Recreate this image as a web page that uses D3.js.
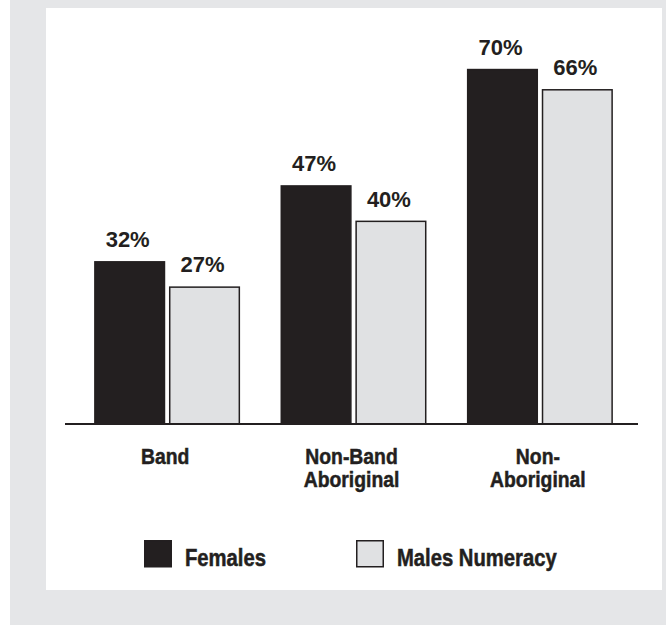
<!DOCTYPE html>
<html>
<head>
<meta charset="utf-8">
<script src="https://cdn.jsdelivr.net/npm/d3@7"></script>
<style>
  html, body { margin: 0; padding: 0; background: #ffffff; }
  svg { display: block; }
</style>
</head>
<body>
<script>
// Numeracy share by group and sex
const groups = ["Band", "Non-Band Aboriginal", "Non-Aboriginal"];
const groupLines = [["Band"], ["Non-Band", "Aboriginal"], ["Non-", "Aboriginal"]];
const seriesNames = ["Females", "Males Numeracy"];
const females = [32, 47, 70];
const males = [27, 40, 66];

const W = 666, H = 625;
const ink = "#231f20";
const lightFill = "#e0e1e3";
const frameGrey = "#e5e6e8";
const sans = "'Liberation Sans', Arial, Helvetica, sans-serif";
const squeeze = 0.88; // horizontal compression for the condensed labels

const svg = d3.select("body").append("svg")
  .attr("width", W).attr("height", H);

// grey frame with white panel
svg.append("rect").attr("x", 10).attr("y", 0).attr("width", W - 10).attr("height", H)
  .attr("fill", frameGrey);
svg.append("rect").attr("x", 46).attr("y", 8).attr("width", 616).attr("height", 582)
  .attr("fill", "#ffffff");

const baseline = 423;

const x0 = d3.scaleBand().domain(groups).range([74, 633])
  .paddingInner(0.217).paddingOuter(0.108);
const x1 = d3.scaleBand().domain(seriesNames).range([0, x0.bandwidth()])
  .paddingInner(0.05);
const y = d3.scaleLinear().domain([0, 100]).range([baseline, baseline - 506]);
const color = d3.scaleOrdinal().domain(seriesNames).range([ink, lightFill]);

const rows = groups.map((g, i) => ({ group: g, values: [
  { series: seriesNames[0], value: females[i] },
  { series: seriesNames[1], value: males[i] }
]}));

const g = svg.selectAll("g.group").data(rows).join("g")
  .attr("class", "group")
  .attr("transform", d => `translate(${x0(d.group)},0)`);

g.selectAll("rect").data(d => d.values).join("rect")
  .attr("x", d => x1(d.series) + 0.75)
  .attr("y", d => y(d.value) + 0.75)
  .attr("width", x1.bandwidth() - 1.5)
  .attr("height", d => baseline - y(d.value))
  .attr("fill", d => color(d.series))
  .attr("stroke", ink)
  .attr("stroke-width", 1.5);

g.selectAll("text.val").data(d => d.values).join("text")
  .attr("class", "val")
  .attr("x", d => x1(d.series) + x1.bandwidth() / 2 - 2)
  .attr("y", d => y(d.value) - 14)
  .attr("text-anchor", "middle")
  .attr("font-family", sans)
  .attr("font-weight", "bold")
  .attr("font-size", 22)
  .attr("fill", ink)
  .text(d => d.value + "%");

// baseline axis
svg.append("line")
  .attr("x1", 65).attr("x2", 638)
  .attr("y1", baseline + 1).attr("y2", baseline + 1)
  .attr("stroke", ink).attr("stroke-width", 2.2);

// category labels (condensed by horizontal scaling, slightly heavier stroke)
groups.forEach((grp, i) => {
  const cx = x0(grp) + x0.bandwidth() / 2 - 2;
  const t = svg.append("text")
    .attr("transform", `translate(${cx},464) scale(${squeeze},1)`)
    .attr("text-anchor", "middle")
    .attr("font-family", sans)
    .attr("font-weight", "bold")
    .attr("font-size", 22)
    .attr("fill", ink)
    .attr("stroke", ink)
    .attr("stroke-width", 0.5);
  groupLines[i].forEach((line, j) => {
    t.append("tspan")
      .attr("x", 0)
      .attr("dy", j === 0 ? 0 : 23.5)
      .text(line);
  });
});

// legend
const legendX = [144, 356];
seriesNames.forEach((name, i) => {
  svg.append("rect")
    .attr("x", legendX[i] + 0.75).attr("y", 540.75)
    .attr("width", 26.5).attr("height", 26)
    .attr("fill", color(name))
    .attr("stroke", ink).attr("stroke-width", 1.5);
  svg.append("text")
    .attr("transform", `translate(${legendX[i] + 41},566) scale(${squeeze},1)`)
    .attr("font-family", sans)
    .attr("font-weight", "bold")
    .attr("font-size", 23)
    .attr("fill", ink)
    .attr("stroke", ink)
    .attr("stroke-width", 0.5)
    .text(name);
});
</script>
</body>
</html>
